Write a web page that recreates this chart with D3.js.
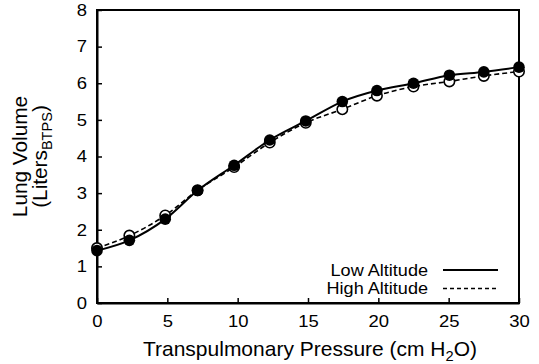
<!DOCTYPE html>
<html><head><meta charset="utf-8">
<script src="https://cdn.jsdelivr.net/npm/d3@7"></script>
<style>
html,body{margin:0;padding:0;background:#fff;}
text{font-family:"Liberation Sans",Arial,sans-serif;fill:#000;}
</style></head>
<body>
<svg id="chart" width="539" height="364"></svg>
<script>
const pressure = [0, 2.3, 4.85, 7.15, 9.75, 12.28, 14.84, 17.44, 19.9, 22.5, 25.05, 27.5, 30];
const lowAltitude = [1.43, 1.71, 2.29, 3.07, 3.76, 4.45, 4.97, 5.50, 5.80, 6.00, 6.22, 6.31, 6.44];
const highAltitude = [1.50, 1.84, 2.39, 3.08, 3.71, 4.38, 4.92, 5.29, 5.66, 5.91, 6.05, 6.20, 6.32];
const xTicks = [0, 5, 10, 15, 20, 25, 30];
const yTicks = [0, 1, 2, 3, 4, 5, 6, 7, 8];
const seriesNames = ["Low Altitude", "High Altitude"];

const svg = d3.select("#chart");
const L = 97, R = 519, T = 10, B = 303;
const x = d3.scaleLinear().domain([0, 30]).range([L, R]);
const y = d3.scaleLinear().domain([0, 8]).range([B, T]);

// frame
svg.append("rect").attr("x", L).attr("y", T).attr("width", R - L).attr("height", B - T)
  .attr("fill", "none").attr("stroke", "#000").attr("stroke-width", 2);

// axes
const xAxis = svg.append("g").attr("transform", `translate(0,${B})`)
  .call(d3.axisBottom(x).tickValues(xTicks).tickSizeInner(-5).tickSizeOuter(0).tickPadding(12));
const yAxis = svg.append("g").attr("transform", `translate(${L},0)`)
  .call(d3.axisLeft(y).tickValues(yTicks).tickSizeInner(-5).tickSizeOuter(0).tickPadding(10));
[xAxis, yAxis].forEach(a => {
  a.select(".domain").attr("stroke", "#000").attr("stroke-width", 2);
  a.selectAll(".tick line").attr("stroke", "#000").attr("stroke-width", 1.5);
  a.selectAll(".tick text").attr("font-size", 16.5).attr("font-family", "Liberation Sans, Arial, sans-serif")
    .attr("fill", "#000");
});
xAxis.selectAll(".tick text").attr("transform", "scale(1.12,1)");
yAxis.selectAll(".tick text").attr("transform", "scale(1.12,1)").attr("x", -10 / 1.12);

const line = d3.line().x((d, i) => x(pressure[i])).y(d => y(d)).curve(d3.curveMonotoneX);

// high altitude (dashed, open)
svg.append("path").datum(highAltitude).attr("d", line)
  .attr("fill", "none").attr("stroke", "#000").attr("stroke-width", 1.6).attr("stroke-dasharray", "5,3");
svg.selectAll("circle.high").data(highAltitude).enter().append("circle").attr("class", "high")
  .attr("cx", (d, i) => x(pressure[i])).attr("cy", d => y(d)).attr("r", 5.2)
  .attr("fill", "#fff").attr("stroke", "#000").attr("stroke-width", 1.6);

// low altitude (solid, filled)
svg.append("path").datum(lowAltitude).attr("d", line)
  .attr("fill", "none").attr("stroke", "#000").attr("stroke-width", 2);
svg.selectAll("circle.low").data(lowAltitude).enter().append("circle").attr("class", "low")
  .attr("cx", (d, i) => x(pressure[i])).attr("cy", d => y(d)).attr("r", 5.8)
  .attr("fill", "#000");

// helper for horizontally stretched text
function stext(px, py, sx, rot) {
  return svg.append("g").attr("transform", `translate(${px},${py})${rot ? " rotate(" + rot + ")" : ""} scale(${sx},1)`)
    .append("text").attr("x", 0).attr("y", 0);
}

// legend
seriesNames.forEach((name, i) => {
  const yy = 270 + i * 18.5;
  stext(428, yy + 5.5, 1.13).attr("text-anchor", "end").attr("font-size", 16).text(name);
  svg.append("line").attr("x1", 443).attr("x2", 498).attr("y1", yy).attr("y2", yy)
    .attr("stroke", "#000").attr("stroke-width", i === 0 ? 2 : 1.6)
    .attr("stroke-dasharray", i === 0 ? null : "4,3");
});

// x title
const xt = stext((L + R) / 2 + 2, 356, 1.05).attr("text-anchor", "middle").attr("font-size", 20);
xt.append("tspan").text("Transpulmonary Pressure (cm H");
xt.append("tspan").attr("font-size", 14).attr("dy", 5).text("2");
xt.append("tspan").attr("dy", -5).text("O)");

// y title
const cy = (T + B) / 2;
stext(27, cy, 1.04, -90).attr("text-anchor", "middle").attr("font-size", 20).text("Lung Volume");
const yt2 = stext(47, cy, 1.04, -90).attr("text-anchor", "middle").attr("font-size", 20);
yt2.append("tspan").text("(Liters");
yt2.append("tspan").attr("font-size", 14).attr("dy", 5).text("BTPS");
yt2.append("tspan").attr("dy", -5).text(")");
</script>
</body></html>
